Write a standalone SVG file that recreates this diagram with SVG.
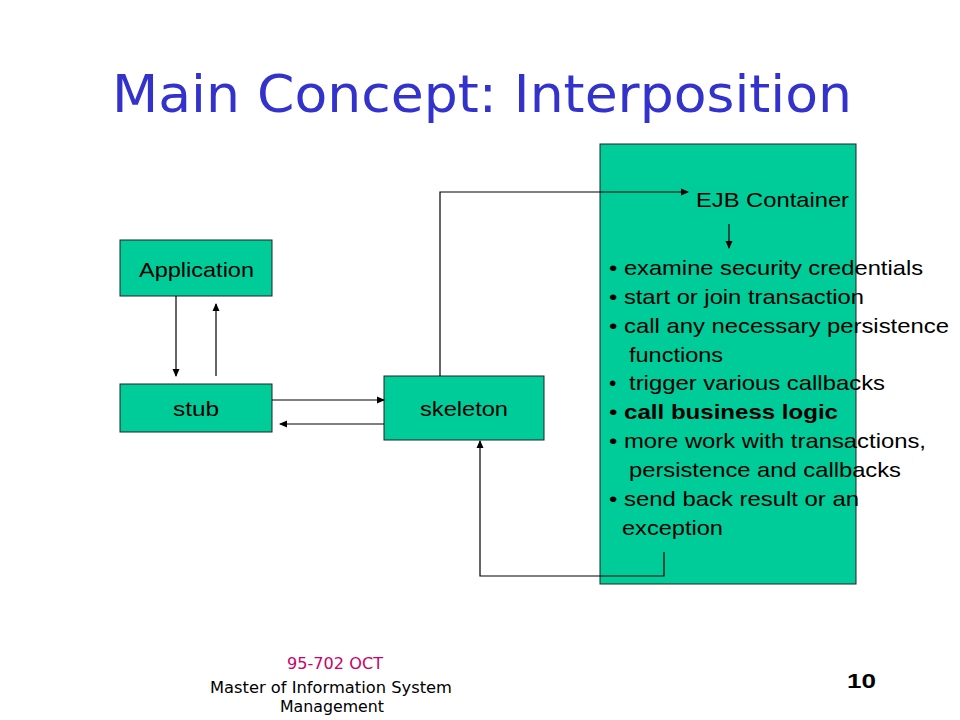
<svg xmlns="http://www.w3.org/2000/svg" width="960" height="720" viewBox="0 0 960 720">
<style>
.box{fill:#00CC99;stroke:#222;stroke-width:1}
.lbl{font-family:"Liberation Sans",Arial,sans-serif;font-size:21px;fill:#000}
.ln{fill:none;stroke:#000;stroke-width:1.2}
.ft{font-family:"DejaVu Sans",Verdana,sans-serif;font-size:15px}
</style>
<defs>
<marker id="ah" markerWidth="8" markerHeight="8" refX="7" refY="4" orient="auto" markerUnits="userSpaceOnUse">
<path d="M0,0.5 L8,4 L0,7.5 Z" fill="#000"/>
</marker>
</defs>
<rect width="960" height="720" fill="#fff"/>
<text x="112" y="112" font-family="DejaVu Sans,Verdana,sans-serif" font-size="52" fill="#3333CC" textLength="740" lengthAdjust="spacingAndGlyphs">Main Concept: Interposition</text>

<g id="container">
<rect class="box" x="600" y="144" width="256" height="440"/>
<text class="lbl" x="696" y="207" textLength="153" lengthAdjust="spacingAndGlyphs">EJB Container</text>
<text class="lbl" x="609" y="275" textLength="314" lengthAdjust="spacingAndGlyphs">• examine security credentials</text>
<text class="lbl" x="609" y="304" textLength="255" lengthAdjust="spacingAndGlyphs">• start or join transaction</text>
<text class="lbl" x="609" y="333" textLength="340" lengthAdjust="spacingAndGlyphs">• call any necessary persistence</text>
<text class="lbl" x="629" y="362" textLength="94" lengthAdjust="spacingAndGlyphs">functions</text>
<text class="lbl" x="609" y="390">•</text>
<text class="lbl" x="629" y="390" textLength="256" lengthAdjust="spacingAndGlyphs">trigger various callbacks</text>
<text class="lbl" x="609" y="419" textLength="229" lengthAdjust="spacingAndGlyphs">• <tspan font-weight="bold">call business logic</tspan></text>
<text class="lbl" x="609" y="448" textLength="317" lengthAdjust="spacingAndGlyphs">• more work with transactions,</text>
<text class="lbl" x="629" y="477" textLength="272" lengthAdjust="spacingAndGlyphs">persistence and callbacks</text>
<text class="lbl" x="609" y="506" textLength="250" lengthAdjust="spacingAndGlyphs">• send back result or an</text>
<text class="lbl" x="622" y="535" textLength="101" lengthAdjust="spacingAndGlyphs">exception</text>
</g>

<g id="application">
<rect class="box" x="120" y="240" width="152" height="56"/>
<text class="lbl" x="139" y="277" textLength="115" lengthAdjust="spacingAndGlyphs">Application</text>
</g>
<g id="stub">
<rect class="box" x="120" y="384" width="152" height="48"/>
<text class="lbl" x="173" y="416" textLength="46" lengthAdjust="spacingAndGlyphs">stub</text>
</g>
<g id="skeleton">
<rect class="box" x="384" y="376" width="160" height="64"/>
<text class="lbl" x="420" y="416" textLength="88" lengthAdjust="spacingAndGlyphs">skeleton</text>
</g>

<g id="connectors">
<line class="ln" x1="176" y1="296" x2="176" y2="376" marker-end="url(#ah)"/>
<line class="ln" x1="216" y1="376" x2="216" y2="304" marker-end="url(#ah)"/>
<line class="ln" x1="272" y1="400" x2="384" y2="400" marker-end="url(#ah)"/>
<line class="ln" x1="384" y1="424" x2="280" y2="424" marker-end="url(#ah)"/>
<polyline class="ln" points="440,376 440,192 688,192" marker-end="url(#ah)"/>
<line class="ln" x1="729" y1="224" x2="729" y2="248" marker-end="url(#ah)"/>
<polyline class="ln" points="664,552 664,576 480,576 480,441" marker-end="url(#ah)"/>
</g>

<text class="ft" x="287" y="669" fill="#CC0066" textLength="96" lengthAdjust="spacingAndGlyphs">95-702 OCT</text>
<text class="ft" x="210" y="693" fill="#000" textLength="242" lengthAdjust="spacingAndGlyphs">Master of Information System</text>
<text class="ft" x="280" y="712" fill="#000" textLength="104" lengthAdjust="spacingAndGlyphs">Management</text>
<text x="847" y="688" font-family="Liberation Sans,Arial,sans-serif" font-size="21" font-weight="bold" fill="#000" textLength="29" lengthAdjust="spacingAndGlyphs">10</text>
</svg>
